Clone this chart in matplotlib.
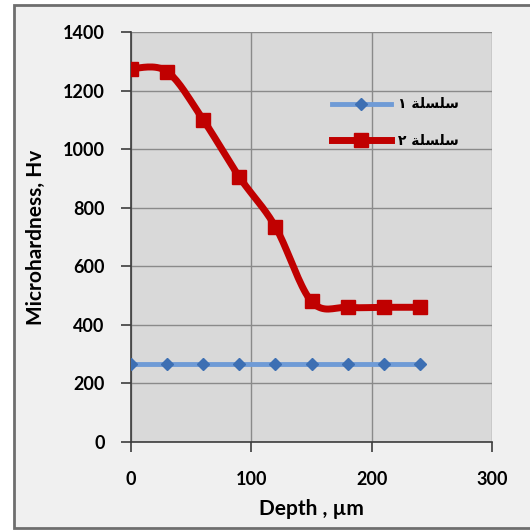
import numpy as np
import matplotlib.pyplot as plt
from matplotlib.patches import Rectangle

# data
depth = [0, 30, 60, 90, 120, 150, 180, 210, 240]
series1 = [265, 265, 265, 265, 265, 265, 265, 265, 265]
series2 = [1275, 1265, 1100, 905, 735, 480, 460, 460, 460]
xticks = [0, 100, 200, 300]
yticks = [0, 200, 400, 600, 800, 1000, 1200, 1400]
# arabic legend labels, written in visual (shaped, right-to-left) order
label1 = "\u0661 \uFE94\uFEE0\uFEB4\uFEE0\uFEB3"
label2 = "\u0662 \uFE94\uFEE0\uFEB4\uFEE0\uFEB3"


def smooth(x, y, n=20):
    # excel-like smoothed line (catmull-rom bezier through the points)
    x = np.asarray(x, float)
    y = np.asarray(y, float)
    px = np.concatenate([[x[0]], x, [x[-1]]])
    py = np.concatenate([[y[0]], y, [y[-1]]])
    outx, outy = [], []
    t = np.linspace(0, 1, n)
    for i in range(1, len(px) - 2):
        p0 = np.array([px[i], py[i]])
        p3 = np.array([px[i + 1], py[i + 1]])
        c1 = p0 + (np.array([px[i + 1], py[i + 1]]) - np.array([px[i - 1], py[i - 1]])) / 6
        c2 = p3 - (np.array([px[i + 2], py[i + 2]]) - np.array([px[i], py[i]])) / 6
        for tt in t:
            b = ((1 - tt) ** 3) * p0 + 3 * ((1 - tt) ** 2) * tt * c1 + 3 * (1 - tt) * tt ** 2 * c2 + tt ** 3 * p3
            outx.append(b[0])
            outy.append(b[1])
    return outx, outy


plt.rcParams['font.family'] = ['Lato', 'DejaVu Sans']

fig = plt.figure(figsize=(5.3, 5.3), dpi=100)
fig.patch.set_facecolor('white')
fig.patches.append(Rectangle((14 / 530, 2 / 530), 1.2, 523 / 530, transform=fig.transFigure,
                             facecolor='#f0f0f0', edgecolor='#6e6e6e', lw=2, zorder=-10))

ax = fig.add_axes([131 / 530, 88 / 530, 361 / 530, 410 / 530])
ax.set_facecolor('#d9d9d9')

blue_line = '#6f9bd6'
blue_mark = '#3d6fb3'
red = '#c00000'

sx, sy = smooth(depth, series2)
ax.plot(depth, series1, color=blue_line, lw=3.5, zorder=3)
ax.plot(depth, series1, ls='none', marker='D', ms=6.5, color=blue_mark, zorder=4)
ax.plot(sx, sy, color=red, lw=5, zorder=3, solid_capstyle='round')
ax.plot(depth, series2, ls='none', marker='s', ms=9.5, color=red, zorder=4)

# legend handles
h1, = ax.plot([], [], color=blue_line, lw=3.5, marker='D', ms=6.5, mfc=blue_mark, mec=blue_mark)
h2, = ax.plot([], [], color=red, lw=5, marker='s', ms=9.5, mfc=red, mec=red)
leg = ax.legend([h1, h2], [label1, label2], loc='upper left', bbox_to_anchor=(0.521, 0.871),
                frameon=False, handlelength=4.3, handletextpad=0.5, labelspacing=1.64,
                prop={'family': 'DejaVu Sans', 'weight': 'bold', 'size': 10})

ax.set_xlim(0, 300)
ax.set_ylim(0, 1400)
ax.set_xticks(xticks)
ax.set_yticks(yticks)
ax.grid(True, color='#8a8a8a', lw=1)
ax.set_axisbelow(True)
for s in ['top', 'right']:
    ax.spines[s].set_visible(False)
for s in ['left', 'bottom']:
    ax.spines[s].set_color('#3c3c3c')
    ax.spines[s].set_linewidth(1.2)
ax.tick_params(direction='out', length=7, width=1.2, color='#3c3c3c', labelsize=13)
ax.tick_params(axis='y', pad=12)
ax.tick_params(axis='x', pad=14)
for lab in ax.get_xticklabels() + ax.get_yticklabels():
    lab.set_fontweight('bold')

ax.set_xlabel('Depth , \u00b5m', fontsize=15, fontweight='bold', labelpad=8)
ax.set_ylabel('Microhardness, Hv', fontsize=15, fontweight='bold', labelpad=12)

fig.savefig('out.png', dpi=100, facecolor=fig.get_facecolor())
